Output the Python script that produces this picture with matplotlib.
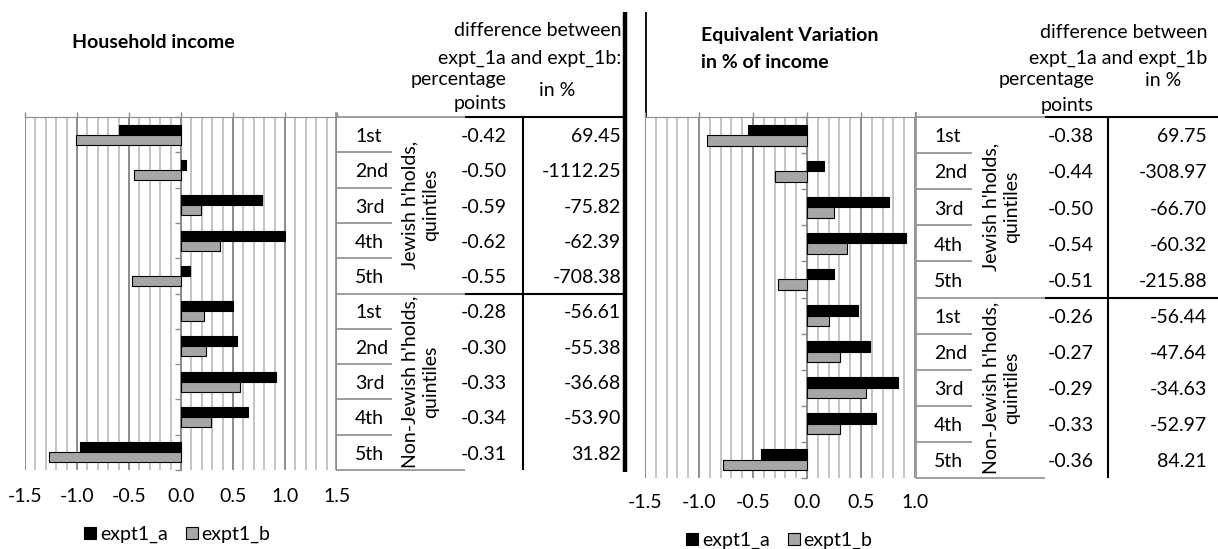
import numpy as np
import matplotlib.pyplot as plt
import matplotlib.transforms as mtransforms
from matplotlib.lines import Line2D

plt.rcParams['font.family'] = ['Lato', 'DejaVu Sans']
plt.rcParams['axes.unicode_minus'] = False
fs = 14
plt.rcParams['font.size'] = fs

quintiles = ['1st', '2nd', '3rd', '4th', '5th'] * 2
groups = ["Jewish h'holds,\nquintiles", "Non-Jewish h'holds,\nquintiles"]
series = ['expt1_a', 'expt1_b']

# household income, change by quintile
inc_a = [-0.60, 0.05, 0.78, 1.00, 0.09, 0.50, 0.54, 0.91, 0.64, -0.97]
inc_b = [-1.01, -0.45, 0.19, 0.375, -0.47, 0.22, 0.24, 0.57, 0.29, -1.27]
inc_pp = [-0.42, -0.50, -0.59, -0.62, -0.55, -0.28, -0.30, -0.33, -0.34, -0.31]
inc_pct = [69.45, -1112.25, -75.82, -62.39, -708.38, -56.61, -55.38, -36.68, -53.90, 31.82]

# equivalent variation in % of income
ev_a = [-0.55, 0.16, 0.76, 0.92, 0.25, 0.47, 0.58, 0.84, 0.64, -0.43]
ev_b = [-0.93, -0.30, 0.25, 0.37, -0.27, 0.20, 0.31, 0.55, 0.31, -0.78]
ev_pp = [-0.38, -0.44, -0.50, -0.54, -0.51, -0.26, -0.27, -0.29, -0.33, -0.36]
ev_pct = [69.75, -308.97, -66.70, -60.32, -215.88, -56.44, -47.64, -34.63, -52.97, 84.21]

W, H = 1218, 549
fig = plt.figure(figsize=(W / 100, H / 100), dpi=100)

# pixel canvas for table lines and header text
canvas = fig.add_axes([0, 0, 1, 1], zorder=0)
canvas.set_xlim(0, W)
canvas.set_ylim(H, 0)
canvas.axis('off')

GRID_MAJ = '#8c8c8c'
GRID_MIN = '#c4c4c4'
GREY_BAR = '#a6a6a6'


def px_axes(x0, y0, x1, y1):
    ax = fig.add_axes([x0 / W, 1 - y1 / H, (x1 - x0) / W, (y1 - y0) / H], zorder=1)
    ax.set_facecolor('none')
    return ax


def bar_panel(ax, a, b, xmax, bh, pad):
    y = np.arange(len(a))
    ax.barh(y - bh / 2, a, height=bh, color='black', edgecolor='black', lw=0.8, zorder=3)
    ax.barh(y + bh / 2, b, height=bh, color=GREY_BAR, edgecolor='black', lw=0.8, zorder=3)
    ax.set_ylim(len(a) - 0.5, -0.5)
    ax.set_xlim(-1.5, xmax)
    ax.set_xticks(np.arange(-1.5, xmax + 0.01, 0.5))
    ax.set_xticks(np.arange(-1.5, xmax + 0.01, 0.1), minor=True)
    ax.xaxis.set_major_formatter('{x:.1f}')
    ax.grid(axis='x', which='minor', color=GRID_MIN, lw=1.4, zorder=0)
    ax.grid(axis='x', which='major', color=GRID_MAJ, lw=1.4, zorder=0)
    ax.set_axisbelow(True)
    ax.tick_params(axis='x', which='major', top=True, bottom=False, labeltop=False,
                   labelbottom=True, direction='out', length=3.6, width=1,
                   color=GRID_MAJ, pad=pad, labelsize=fs)
    ax.tick_params(axis='x', which='minor', length=0)
    ax.set_yticks(np.arange(-0.5, len(a), 1))
    ax.tick_params(axis='y', direction='out', length=4.3, width=1, color=GRID_MAJ,
                   labelleft=False)
    for s in ['bottom', 'right']:
        ax.spines[s].set_visible(False)
    ax.spines['top'].set_color(GRID_MAJ)
    ax.spines['left'].set_color(GRID_MAJ)
    ax.spines['left'].set_position(('data', 0))


def table(ax, pp, pct, xs):
    tr = mtransforms.blended_transform_factory(canvas.transData, ax.transData)
    n = len(pp)
    kw = dict(transform=tr, clip_on=False, solid_capstyle='butt')
    canvas.plot([xs['border']] * 2, [-0.65, n - 0.5], color=GRID_MAJ, lw=1.2, **kw)
    for i in list(range(0, 4)) + list(range(5, 9)):
        canvas.plot([xs['border'], xs['sep']], [i + 0.5] * 2, color=GRID_MAJ, lw=1.2, **kw)
    for yb in [-0.5, 4.5]:
        canvas.plot([xs['border'], xs['grp']], [yb] * 2, color=GRID_MAJ, lw=1.2, **kw)
        canvas.plot([xs['grp'], xs['end']], [yb] * 2, color='black', lw=1.5, **kw)
    canvas.plot([xs['border'], xs['grp']], [n - 0.5] * 2, color=GRID_MAJ, lw=1.2, **kw)
    canvas.plot([xs['mid']] * 2, [-0.5, n - 0.5], color='black', lw=1.5, **kw)
    for i in range(n):
        canvas.text(xs['lab'], i + 0.05, quintiles[i], transform=tr, ha='left', va='center')
        canvas.text(xs['pp'], i + 0.05, f'{pp[i]:.2f}', transform=tr, ha='right', va='center')
        canvas.text(xs['pct'], i + 0.05, f'{pct[i]:.2f}', transform=tr, ha='right', va='center')
    for g, yc in zip(groups, [2, 7]):
        canvas.text(xs['rot'], yc, g, transform=tr, rotation=90, ha='center', va='center',
                    multialignment='center', linespacing=1.3)


ax1 = px_axes(25, 117, 337, 470)
bar_panel(ax1, inc_a, inc_b, 1.5, 0.283, 9.0)
ax2 = px_axes(645, 117, 915, 478)
bar_panel(ax2, ev_a, ev_b, 1.0, 0.29, 8.0)

table(ax1, inc_pp, inc_pct, dict(border=336, sep=392, grp=465, end=625, mid=523,
                                 lab=355, pp=507, pct=621, rot=420))
table(ax2, ev_pp, ev_pct, dict(border=916, sep=972, grp=1045, end=1218, mid=1108,
                               lab=934, pp=1094, pct=1207, rot=1001))

# panel divider
canvas.plot([625, 625], [12, 472], color='black', lw=3.2, solid_capstyle='butt')
canvas.plot([646, 646], [12, 117], color='black', lw=1.3, solid_capstyle='butt')

# titles and column headers
canvas.text(153, 42, 'Household income', ha='center', va='center', fontweight='bold')
canvas.text(701, 35, 'Equivalent Variation', ha='left', va='center', fontweight='bold')
canvas.text(701, 62, 'in % of income', ha='left', va='center', fontweight='bold')

canvas.text(621, 30, 'difference between', ha='right', va='center')
canvas.text(621, 58, 'expt_1a and expt_1b:', ha='right', va='center')
canvas.text(507, 80, 'percentage', ha='right', va='center')
canvas.text(507, 103, 'points', ha='right', va='center')
canvas.text(557, 90, 'in %', ha='center', va='center')

canvas.text(1207, 32, 'difference between', ha='right', va='center')
canvas.text(1207, 58, 'expt_1a and expt_1b', ha='right', va='center')
canvas.text(1094, 80, 'percentage', ha='right', va='center')
canvas.text(1094, 105, 'points', ha='right', va='center')
canvas.text(1163, 80, 'in %', ha='center', va='center')

handles = [Line2D([], [], ls='none', marker='s', markersize=8, markerfacecolor=c,
                  markeredgecolor='black', markeredgewidth=0.8)
           for c in ['black', GREY_BAR]]
for cx, cy in [(177, 534), (779, 540)]:
    fig.legend(handles, series, loc='center', bbox_to_anchor=(cx / W, 1 - cy / H),
               ncol=2, frameon=False, handlelength=0.7, handletextpad=0.15,
               columnspacing=0.9, borderaxespad=0, borderpad=0)

fig.savefig('out.png', dpi=100)
